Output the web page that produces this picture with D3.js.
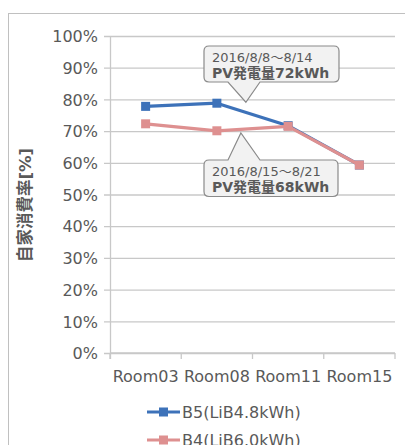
<!DOCTYPE html>
<html>
<head>
<meta charset="utf-8">
<script src="https://cdn.jsdelivr.net/npm/d3@7"></script>
<style>
  html, body { margin: 0; padding: 0; background: #fff; }
  svg { display: block; }
</style>
</head>
<body>
<svg id="chart" width="405" height="445"></svg>
<script>
// Self-consumption rate per room, two battery configurations
const categories = ["Room03", "Room08", "Room11", "Room15"];
const seriesNames = ["B5(LiB4.8kWh)", "B4(LiB6.0kWh)"];
const b5Values = [77.8, 78.8, 71.7, 59.3];
const b4Values = [72.3, 70.1, 71.5, 59.3];
const yTicks = [0, 10, 20, 30, 40, 50, 60, 70, 80, 90, 100];
const yTitle = "自家消費率[%]";
const calloutTop = ["2016/8/8～8/14", "PV発電量72kWh"];
const calloutBottom = ["2016/8/15～8/21", "PV発電量68kWh"];

const colors = ["#3d72b9", "#de9090"];
const font = "'DejaVu Sans', 'Noto Sans CJK JP', sans-serif";
const textColor = "#595959";
const gridColor = "#c8c8c8";

const svg = d3.select("#chart");

// outer chart frame (continues past the right and bottom edges)
svg.append("rect")
  .attr("x", 8.5).attr("y", 13.5)
  .attr("width", 420).attr("height", 450)
  .attr("fill", "#fff").attr("stroke", "#c0c0c0").attr("stroke-width", 1);

const plot = { left: 110, right: 395, top: 36, bottom: 353 };

const x = d3.scaleBand().domain(categories).range([plot.left, plot.right]);
const y = d3.scaleLinear().domain([0, 100]).range([plot.bottom, plot.top]);

// horizontal grid lines, extended left as tick marks
const yAxis = d3.axisLeft(y)
  .tickValues(yTicks)
  .tickSize(-(plot.right - plot.left))
  .tickPadding(12)
  .tickFormat(d => d + "%");

const gY = svg.append("g")
  .attr("transform", `translate(${plot.left},0)`)
  .call(yAxis);
gY.select(".domain").remove();
gY.selectAll(".tick line")
  .attr("x1", -6)
  .attr("stroke", gridColor).attr("stroke-width", 1.3);
gY.selectAll(".tick text")
  .attr("font-family", font).attr("font-size", 16)
  .attr("fill", textColor).attr("dy", "0.36em");

// vertical axis line
svg.append("line")
  .attr("x1", plot.left + 0.5).attr("x2", plot.left + 0.5)
  .attr("y1", plot.top).attr("y2", plot.bottom + 6)
  .attr("stroke", gridColor).attr("stroke-width", 1.3);

// category axis with ticks on the band boundaries
const gX = svg.append("g")
  .attr("transform", `translate(0,${plot.bottom})`);
gX.append("line")
  .attr("x1", plot.left).attr("x2", plot.right)
  .attr("stroke", gridColor).attr("stroke-width", 1.3);
const boundaries = categories.map(c => x(c)).concat([x.range()[1]]);
gX.selectAll("line.b").data(boundaries).join("line")
  .attr("class", "b")
  .attr("x1", d => d).attr("x2", d => d)
  .attr("y1", 0).attr("y2", 6)
  .attr("stroke", gridColor).attr("stroke-width", 1.3);
gX.selectAll("text").data(categories).join("text")
  .attr("x", d => x(d) + x.bandwidth() / 2)
  .attr("y", 29)
  .attr("text-anchor", "middle")
  .attr("font-family", font).attr("font-size", 16)
  .attr("fill", textColor)
  .text(d => d);

// y-axis title
svg.append("text")
  .attr("transform", "translate(31,205) rotate(-90)")
  .attr("text-anchor", "middle")
  .attr("font-family", font).attr("font-size", 16.5).attr("font-weight", "bold")
  .attr("fill", textColor)
  .text(yTitle);

// series lines and square markers
const series = [b5Values, b4Values];
const line = d3.line()
  .x((d, i) => x(categories[i]) + x.bandwidth() / 2)
  .y(d => y(d));

series.forEach((vals, si) => {
  const g = svg.append("g");
  g.append("path")
    .attr("d", line(vals))
    .attr("fill", "none")
    .attr("stroke", colors[si]).attr("stroke-width", 3.2)
    .attr("stroke-linejoin", "round");
  g.selectAll("rect").data(vals).join("rect")
    .attr("x", (d, i) => x(categories[i]) + x.bandwidth() / 2 - 4.5)
    .attr("y", d => y(d) - 4.5)
    .attr("width", 9).attr("height", 9)
    .attr("fill", colors[si]);
});

// callout boxes with pointer toward the lines
function callout(lines, box, tip, pointerUp) {
  const { x0, x1, y0, y1 } = box;
  const r = 5;
  const b0 = 228, b1 = 260;
  let p = d3.path();
  p.moveTo(x0 + r, y0);
  if (pointerUp) {
    p.lineTo(b0, y0); p.lineTo(tip[0], tip[1]); p.lineTo(b1, y0);
  }
  p.lineTo(x1 - r, y0);
  p.quadraticCurveTo(x1, y0, x1, y0 + r);
  p.lineTo(x1, y1 - r);
  p.quadraticCurveTo(x1, y1, x1 - r, y1);
  if (!pointerUp) {
    p.lineTo(b1, y1); p.lineTo(tip[0], tip[1]); p.lineTo(b0, y1);
  }
  p.lineTo(x0 + r, y1);
  p.quadraticCurveTo(x0, y1, x0, y1 - r);
  p.lineTo(x0, y0 + r);
  p.quadraticCurveTo(x0, y0, x0 + r, y0);
  p.closePath();
  svg.append("path")
    .attr("d", p.toString())
    .attr("fill", "#f2f2f2")
    .attr("stroke", "#8a8a8a").attr("stroke-width", 1.2);
  svg.append("text")
    .attr("x", x0 + 8).attr("y", y0 + 16)
    .attr("font-family", font).attr("font-size", 13)
    .attr("fill", textColor)
    .text(lines[0]);
  svg.append("text")
    .attr("x", x0 + 8).attr("y", y0 + 31.5)
    .attr("font-family", font).attr("font-size", 14).attr("font-weight", "bold")
    .attr("fill", textColor)
    .text(lines[1]);
}

const midX = x("Room08") + x.bandwidth() * 0.9;
callout(calloutTop, { x0: 204, x1: 339, y0: 46, y1: 82 }, [midX + 0.5, y(79.1)], false);
callout(calloutBottom, { x0: 204, x1: 338, y0: 160, y1: 196.5 }, [midX - 4.5, y(69.4)], true);

// legend
const legend = svg.append("g");
seriesNames.forEach((name, i) => {
  const ly = 412 + i * 28;
  legend.append("line")
    .attr("x1", 147).attr("x2", 180).attr("y1", ly).attr("y2", ly)
    .attr("stroke", colors[i]).attr("stroke-width", 3.2);
  legend.append("rect")
    .attr("x", 159).attr("y", ly - 4.5).attr("width", 9).attr("height", 9)
    .attr("fill", colors[i]);
  legend.append("text")
    .attr("x", 182).attr("y", ly).attr("dy", "0.36em")
    .attr("font-family", font).attr("font-size", 16)
    .attr("fill", textColor)
    .text(name);
});
</script>
</body>
</html>
